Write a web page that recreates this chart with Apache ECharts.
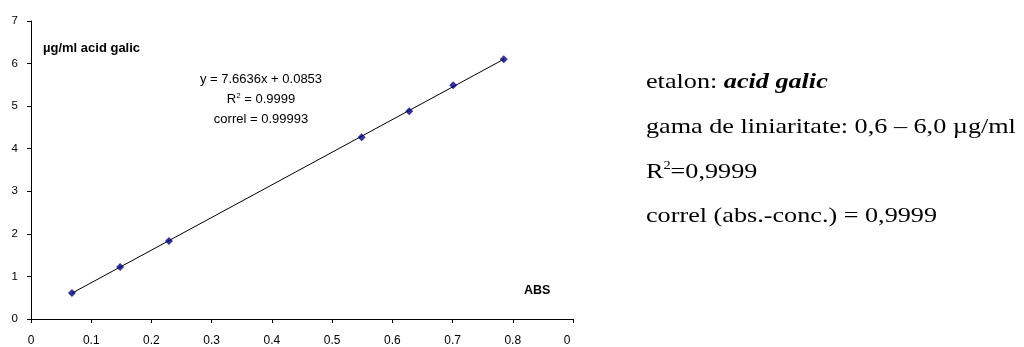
<!DOCTYPE html>
<html>
<head>
<meta charset="utf-8">
<title>Curba de etalonare - acid galic</title>
<script src="https://cdn.jsdelivr.net/npm/echarts@6/dist/echarts.min.js"></script>
<style>
  html, body { margin: 0; padding: 0; background: #fff; }
  #chart { width: 1024px; height: 347px; }
</style>
</head>
<body>
<div id="chart"></div>
<script>
// Calibration standards: absorbance vs. gallic acid concentration (µg/ml)
const absValues = [0.068, 0.148, 0.229, 0.549, 0.628, 0.701, 0.785];
const concValues = [0.61, 1.22, 1.83, 4.27, 4.88, 5.49, 6.10];

// Linear regression reported on the chart
const slope = 7.6636;
const intercept = 0.0853;
const r2Text = '0.9999';
const correlText = '0.99993';

// Axis ticks
const xTicks = [0, 0.1, 0.2, 0.3, 0.4, 0.5, 0.6, 0.7, 0.8, 0.9];
const yTicks = [0, 1, 2, 3, 4, 5, 6, 7];

// Side notes
const noteStandard = 'acid galic';
const noteRange = 'gama de liniaritate: 0,6 – 6,0 µg/ml';
const noteR2 = '=0,9999';
const noteCorrel = 'correl (abs.-conc.) = 0,9999';

const points = absValues.map((a, i) => [a, concValues[i]]);
const xMin = Math.min(...absValues);
const xMax = Math.max(...absValues);
const trend = [xMin, xMax].map(x => [x, slope * x + intercept]);

const chart = echarts.init(document.getElementById('chart'), null, { renderer: 'canvas' });
const sans = 'Liberation Sans, Arial, sans-serif';
const serif = 'Liberation Serif, Times New Roman, serif';

// Side notes are set in a slightly widened serif
const noteScaleX = 1.19;
const noteFont = 22;
function note(top, styleObj) {
  return {
    type: 'text', x: 646, y: top, scaleX: noteScaleX, scaleY: 1,
    style: Object.assign({ x: 0, y: 0, verticalAlign: 'top' }, styleObj)
  };
}

chart.setOption({
  animation: false,
  backgroundColor: '#ffffff',
  grid: { left: 31, right: 451, top: 21, bottom: 28, containLabel: false },
  xAxis: {
    type: 'value',
    min: xTicks[0],
    max: xTicks[xTicks.length - 1],
    interval: 0.1,
    splitLine: { show: false },
    axisLine: { onZero: false, lineStyle: { color: '#000', width: 1 } },
    axisTick: { show: true, length: 4, inside: false, lineStyle: { color: '#000' } },
    axisLabel: {
      color: '#000', fontFamily: sans, fontSize: 12, margin: 16,
      showMaxLabel: true,
      formatter: v => {
        const r = Math.round(v * 10) / 10;
        if (r === xTicks[xTicks.length - 1]) return '{cut|0}';
        return r === 0 ? '0' : String(r);
      },
      rich: { cut: { color: '#000', fontFamily: sans, fontSize: 12, padding: [0, 12, 0, 0] } }
    }
  },
  yAxis: {
    type: 'value',
    min: yTicks[0],
    max: yTicks[yTicks.length - 1],
    interval: 1,
    splitLine: { show: false },
    axisLine: { show: true, lineStyle: { color: '#000', width: 1 } },
    axisTick: { show: true, length: 4, inside: false, lineStyle: { color: '#000' } },
    axisLabel: { color: '#000', fontFamily: sans, fontSize: 11.5, margin: 13 }
  },
  series: [
    {
      name: 'trend',
      type: 'line',
      data: trend,
      symbol: 'none',
      silent: true,
      lineStyle: { color: '#000', width: 1 },
      z: 2
    },
    {
      name: 'standards',
      type: 'scatter',
      data: points,
      symbol: 'diamond',
      symbolSize: 8,
      itemStyle: { color: '#000080' },
      z: 3
    }
  ],
  graphic: [
    { type: 'text', left: 43, top: 42,
      style: { text: 'µg/ml acid galic', font: 'bold 13px ' + sans, fill: '#000' } },
    { type: 'text', left: 524, top: 284,
      style: { text: 'ABS', font: 'bold 12.5px ' + sans, fill: '#000' } },
    // Regression label
    { type: 'text', x: 261, y: 79,
      style: { text: 'y = ' + slope + 'x + ' + intercept, font: '13px ' + sans, fill: '#000',
               align: 'center', verticalAlign: 'middle' } },
    { type: 'text', x: 261, y: 99,
      style: { text: '{n|R}{s|2}{n| = ' + r2Text + '}', align: 'center', verticalAlign: 'middle',
               rich: { n: { font: '13px ' + sans, color: '#000' },
                       s: { font: '8px ' + sans, color: '#000', padding: [0, 0, 7, 0] } } } },
    { type: 'text', x: 261, y: 119,
      style: { text: 'correl = ' + correlText, font: '13px ' + sans, fill: '#000',
               align: 'center', verticalAlign: 'middle' } },
    // Side notes
    note(71, { text: '{n|etalon: }{b|' + noteStandard + '}',
               rich: { n: { font: noteFont + 'px ' + serif, color: '#000' },
                       b: { font: 'italic bold ' + noteFont + 'px ' + serif, color: '#000' } } }),
    note(116, { text: noteRange, font: noteFont + 'px ' + serif, fill: '#000' }),
    note(160, { text: '{n|R}{s|2}{n|' + noteR2 + '}',
               rich: { n: { font: noteFont + 'px ' + serif, color: '#000' },
                       s: { font: '12px ' + serif, color: '#000', padding: [0, 0, 13, 0] } } }),
    note(205, { text: noteCorrel, font: noteFont + 'px ' + serif, fill: '#000' })
  ]
});
</script>
</body>
</html>
